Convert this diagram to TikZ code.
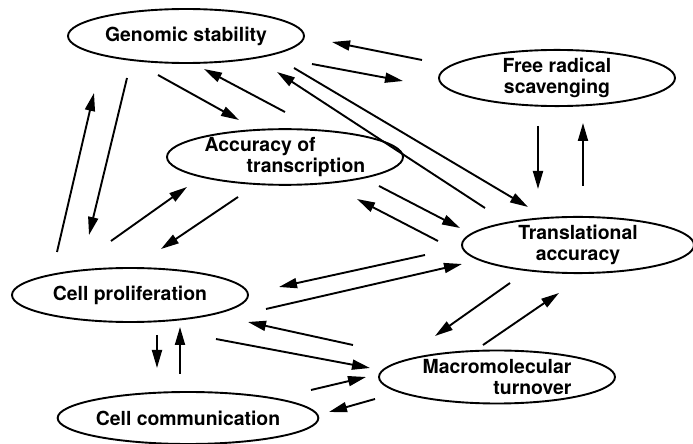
\documentclass[tikz,border=0pt]{standalone}
\usepackage{fontspec}
\setmainfont{TeX Gyre Heros}
\usetikzlibrary{shapes.geometric,arrows.meta}
\begin{document}
\begin{tikzpicture}[x=0.5pt, y=-0.5pt, line width=0.95pt,
	main/.style = {draw, ellipse, inner sep=0pt, minimum width=118pt, minimum height=27pt,
		font=\bfseries\fontsize{9.7}{10.5}\selectfont},
	arr/.style = {-{Triangle[length=9pt,width=5pt]}}]
	
	\useasboundingbox (0,0) rectangle (693,444);
	
	\node[main] (gen) at (186,36) {Genomic stability};
	\node[main, align=center] (rad) at (557,78) {Free radical\\scavenging};
	\node[main, align=left, minimum height=26.5pt] (tx) at (285,157) {Accuracy of\\\hspace{21pt}transcription};
	\node[main, align=center, minimum width=116pt, minimum height=28pt] (tra) at (578,245) {Translational\\accuracy};
	\node[main] (pro) at (130,295) {Cell proliferation};
	\node[main, align=right, minimum height=26.5pt] (mac) at (497,377) {Macromolecular\\turnover\hspace{-3pt}};
	\node[main, minimum width=119.5pt, minimum height=26pt] (com) at (188,418) {Cell communication};
	
	% arrow ends
	\coordinate (progen1) at (57,252);   \coordinate (progen2) at (94,93);
	\coordinate (genpro1) at (127,78);   \coordinate (genpro2) at (89,235);
	\coordinate (gentx1) at (158,75);    \coordinate (gentx2) at (239,120);
	\coordinate (txgen1) at (285,112);   \coordinate (txgen2) at (204,69);
	\coordinate (protx1) at (111,241);   \coordinate (protx2) at (187,187);
	\coordinate (txpro1) at (238,197);   \coordinate (txpro2) at (161,249);
	\coordinate (radgen1) at (422,60);   \coordinate (radgen2) at (332,42);
	\coordinate (genrad1) at (312,64);   \coordinate (genrad2) at (403,81);
	\coordinate (tragen1) at (485,208);  \coordinate (tragen2) at (277,72);
	\coordinate (gentra1) at (294,68);   \coordinate (gentra2) at (528,207);
	\coordinate (txtra1) at (379,186);   \coordinate (txtra2) at (460,228);
	\coordinate (tratx1) at (438,241);   \coordinate (tratx2) at (357,199);
	\coordinate (radtra1) at (538,126);  \coordinate (radtra2) at (538,189);
	\coordinate (trarad1) at (583,186);  \coordinate (trarad2) at (583,123);
	\coordinate (trapro1) at (425,255);  \coordinate (trapro2) at (279,287);
	\coordinate (protra1) at (266,309);  \coordinate (protra2) at (462,264);
	\coordinate (macpro1) at (353,345);  \coordinate (macpro2) at (248,322);
	\coordinate (promac1) at (216,339);  \coordinate (promac2) at (370,368);
	\coordinate (commac1) at (311,390);  \coordinate (commac2) at (366,377);
	\coordinate (maccom1) at (375,399);  \coordinate (maccom2) at (329,412);
	\coordinate (tramac1) at (510,283);  \coordinate (tramac2) at (435,336);
	\coordinate (mactra1) at (483,345);  \coordinate (mactra2) at (559,293);
	\coordinate (procom1) at (157,335);  \coordinate (procom2) at (157,368);
	\coordinate (compro1) at (180,374);  \coordinate (compro2) at (180,327);
	
	\draw[arr] (progen1) -- (progen2);
	\draw[arr] (genpro1) -- (genpro2);
	\draw[arr] (gentx1) -- (gentx2);
	\draw[arr] (txgen1) -- (txgen2);
	\draw[arr] (protx1) -- (protx2);
	\draw[arr] (txpro1) -- (txpro2);
	\draw[arr] (radgen1) -- (radgen2);
	\draw[arr] (genrad1) -- (genrad2);
	\draw[arr] (tragen1) -- (tragen2);
	\draw[arr] (gentra1) -- (gentra2);
	\draw[arr] (txtra1) -- (txtra2);
	\draw[arr] (tratx1) -- (tratx2);
	\draw[arr] (radtra1) -- (radtra2);
	\draw[arr] (trarad1) -- (trarad2);
	\draw[arr] (trapro1) -- (trapro2);
	\draw[arr] (protra1) -- (protra2);
	\draw[arr] (macpro1) -- (macpro2);
	\draw[arr] (promac1) -- (promac2);
	\draw[arr] (commac1) -- (commac2);
	\draw[arr] (maccom1) -- (maccom2);
	\draw[arr] (tramac1) -- (tramac2);
	\draw[arr] (mactra1) -- (mactra2);
	\draw[arr] (procom1) -- (procom2);
	\draw[arr] (compro1) -- (compro2);
\end{tikzpicture}
\end{document}
